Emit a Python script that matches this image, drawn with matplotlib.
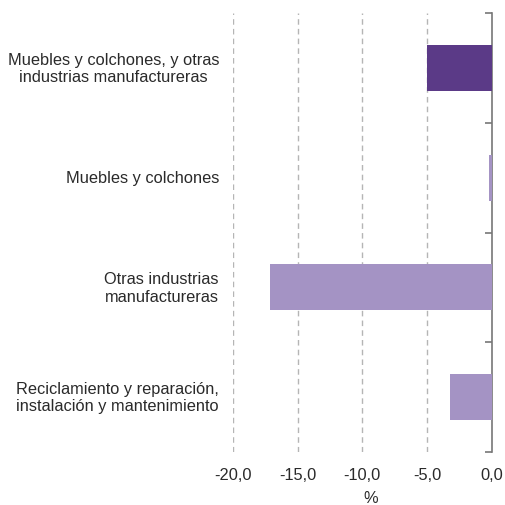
#!/usr/bin/env python3
# -*- coding: utf-8 -*-

"""
Barras horizontales: variacion (%) por rama de actividad
"""

import matplotlib
matplotlib.use("Agg")
import matplotlib.pyplot as plt
from matplotlib.transforms import blended_transform_factory

# Datos
categorias = ["Muebles y colchones, y otras\nindustrias manufactureras",
              "Muebles y colchones",
              "Otras industrias\nmanufactureras",
              "Reciclamiento y reparación,\ninstalación y mantenimiento"]
valores = [-5.0, -0.2, -17.1, -3.2]
colores = ["#5b3a87", "#a493c4", "#a493c4", "#a493c4"]
xticks = [-20.0, -15.0, -10.0, -5.0, 0.0]
xticklabels = ["-20,0", "-15,0", "-10,0", "-5,0", "0,0"]

plt.rcParams['font.family'] = ['Liberation Sans', 'DejaVu Sans']
gris_texto = "#2a2a2a"

fig = plt.figure(figsize=(5.05, 5.06), dpi=100)
ax = fig.add_axes([0.461, 0.105, 0.513, 0.867])

ypos = list(range(len(categorias)))
ax.barh(ypos, valores, height=0.42, color=colores, zorder=3)

ax.set_xlim(-20.0, 0.0)
ax.set_ylim(len(categorias) - 0.5, -0.5)

# Grille verticale en pointilles
for xv in xticks[:-1]:
    ax.axvline(xv, color="#b5b5b5", linestyle=(0, (4, 3)), linewidth=1.0, zorder=1)

ax.set_xticks(xticks)
ax.set_xticklabels(xticklabels, fontsize=11.8, color=gris_texto)
ax.tick_params(axis="x", length=0, pad=11)
ax.set_xlabel("%", fontsize=11.8, color=gris_texto, labelpad=6, x=0.533)

# Axe de droite avec graduations entre categories
ax.set_yticks([y - 0.5 for y in range(len(categorias) + 1)])
ax.set_yticklabels([])
ax.yaxis.tick_right()
ax.tick_params(axis="y", direction="in", length=5, width=1.2, color="#777777")
for s in ["left", "top", "bottom"]:
    ax.spines[s].set_visible(False)
ax.spines["right"].set_color("#777777")
ax.spines["right"].set_linewidth(1.2)

# Etiquettes des categories
tr = blended_transform_factory(fig.transFigure, ax.transData)
for y, lab in zip(ypos, categorias):
    ax.text(219 / 505, y, lab, transform=tr, ha="right", va="center",
            multialignment="center", fontsize=11.8, color=gris_texto,
            linespacing=1.2)

fig.savefig("out.png", dpi=100)
